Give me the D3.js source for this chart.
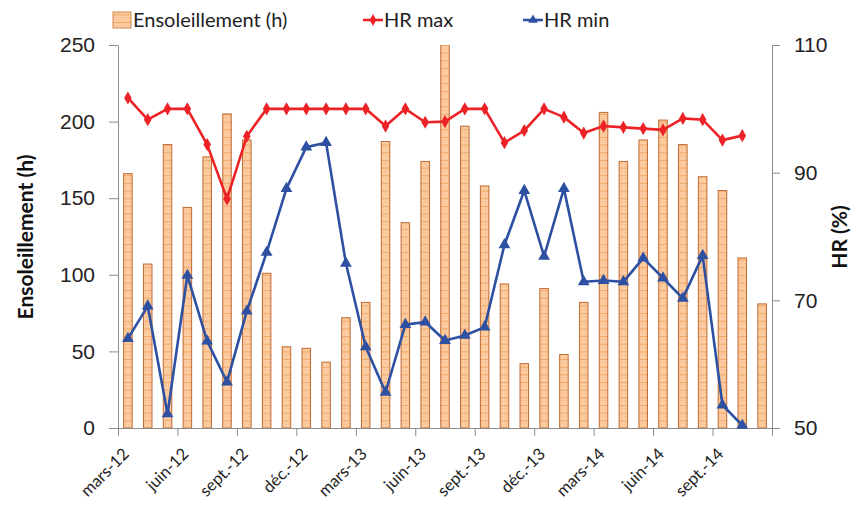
<!DOCTYPE html>
<html><head><meta charset="utf-8">
<script src="https://cdn.jsdelivr.net/npm/d3@7"></script>
<style>
body{margin:0;background:#fff;}
svg{display:block;font-family:Lato,"Open Sans",sans-serif;}
</style></head>
<body><svg id="c" width="853" height="505"></svg>
<script>
const months = ["mars-12","avr.-12","mai-12","juin-12","juil.-12","août-12","sept.-12","oct.-12","nov.-12","déc.-12",
"janv.-13","févr.-13","mars-13","avr.-13","mai-13","juin-13","juil.-13","août-13","sept.-13","oct.-13","nov.-13","déc.-13",
"janv.-14","févr.-14","mars-14","avr.-14","mai-14","juin-14","juil.-14","août-14","sept.-14","oct.-14","nov.-14"];
const sunshine = [166,107,185,144,177,205,188,101,53,52,43,72,82,187,134,174,262,197,158,94,42,91,48,82,206,174,188,201,185,164,155,111,81];
const hrMax = [101.7,98.3,100,100,94.4,85.9,95.7,100,100,100,100,100,100,97.3,100,97.9,98.0,100,100,94.7,96.6,100,98.7,96.2,97.3,97.1,96.9,96.7,98.5,98.3,95.1,95.8,null];
const hrMin = [64.0,69.1,52.2,73.9,63.6,57.2,68.3,77.5,87.5,94.0,94.7,75.8,62.7,55.6,66.2,66.6,63.7,64.5,65.8,78.7,87.2,76.9,87.5,72.9,73.1,72.9,76.6,73.5,70.3,77.0,53.6,50.4,null];
const tickLabels = ["mars-12","juin-12","sept.-12","déc.-12","mars-13","juin-13","sept.-13","déc.-13","mars-14","juin-14","sept.-14",""];
const leftTicks = [0,50,100,150,200,250];
const rightTicks = [50,70,90,110];

const svg = d3.select("#c");
const L=118,R=772,T=45,B=428;
const x = d3.scaleBand().domain(d3.range(months.length)).range([L,R]).paddingInner(0.57).paddingOuter(0.285);
const xt = d3.scaleLinear().domain([0,months.length]).range([L,R]);
const yL = d3.scaleLinear().domain([0,250]).range([B,T]);
const yR = d3.scaleLinear().domain([50,110]).range([B,T]);
const cx = i => x(i)+x.bandwidth()/2;

const defs = svg.append("defs");
const pat = defs.append("pattern").attr("id","pat").attr("patternUnits","userSpaceOnUse").attr("width",4).attr("height",7.66).attr("y",B);
pat.append("rect").attr("width",4).attr("height",7.66).attr("fill","#fccb9f");
pat.append("rect").attr("x",1).attr("y",3).attr("width",1).attr("height",1).attr("fill","#f3ad72");
pat.append("line").attr("x1",0).attr("x2",4).attr("y1",0.5).attr("y2",0.5).attr("stroke","#f0a868").attr("stroke-width",1);
defs.append("clipPath").attr("id","clip").append("rect").attr("x",L).attr("y",T).attr("width",R-L).attr("height",B-T);

// bars
svg.append("g").attr("clip-path","url(#clip)").selectAll("rect").data(sunshine).join("rect")
  .attr("x",(d,i)=>x(i)).attr("width",x.bandwidth())
  .attr("y",d=>yL(d)).attr("height",d=>B-yL(d))
  .attr("fill","url(#pat)").attr("stroke","#c06a32").attr("stroke-width",1);

// axes
const gray="#8c8c8c";
const tickVals = d3.range(0,34,3);
const ax = svg.append("g").attr("transform",`translate(0,${B})`)
  .call(d3.axisBottom(xt).tickValues(tickVals).tickFormat("").tickSize(8).tickSizeOuter(0));
ax.select(".domain").attr("stroke",gray);
ax.selectAll(".tick line").attr("stroke",gray);
svg.append("g").selectAll("text").data(tickVals).join("text")
  .attr("transform",(d)=>`translate(${xt(d)+8},${B+23}) rotate(-45)`)
  .attr("text-anchor","end").attr("dy","0.35em")
  .attr("font-size",16.5).attr("fill","#222")
  .text((d,i)=>tickLabels[i]);

const al = svg.append("g").attr("transform",`translate(${L},0)`)
  .call(d3.axisLeft(yL).tickValues(leftTicks).tickSize(9).tickSizeOuter(0).tickPadding(14));
al.select(".domain").attr("stroke",gray);
al.selectAll(".tick line").attr("stroke",gray);
al.selectAll("text").attr("font-size",21).attr("fill","#222");

const ar = svg.append("g").attr("transform",`translate(${R},0)`)
  .call(d3.axisRight(yR).tickValues(rightTicks).tickSize(8).tickSizeOuter(0).tickPadding(14));
ar.select(".domain").attr("stroke",gray);
ar.selectAll(".tick line").attr("stroke",gray);
ar.selectAll("text").attr("font-size",21).attr("fill","#222");

// lines
const idx = d3.range(months.length);
function series(data,color,shape,size){
  const pts = idx.filter(i=>data[i]!=null);
  svg.append("path").datum(pts).attr("fill","none").attr("stroke",color).attr("stroke-width",2.6)
    .attr("stroke-linejoin","round")
    .attr("d",d3.line().x(i=>cx(i)).y(i=>yR(data[i])));
  svg.append("g").selectAll("path").data(pts).join("path")
    .attr("transform",i=>`translate(${cx(i)},${yR(data[i])})`)
    .attr("d",d3.symbol().type(shape).size(size)).attr("fill",color);
}
series(hrMax,"#ec2227",d3.symbolDiamond,50);
series(hrMin,"#2d50a3",d3.symbolTriangle,60);

// axis titles
svg.append("text").attr("transform","translate(33,237) rotate(-90)").attr("text-anchor","middle")
  .attr("font-size",21).attr("font-weight","bold").attr("fill","#111").text("Ensoleillement (h)");
svg.append("text").attr("transform","translate(847,237) rotate(-90)").attr("text-anchor","middle")
  .attr("font-size",21).attr("font-weight","bold").attr("fill","#111").text("HR (%)");

// legend
const lg = svg.append("g");
lg.append("rect").attr("x",113).attr("y",12).attr("width",18).attr("height",16).attr("fill","url(#pat)").attr("stroke","#d08a50");
lg.append("text").attr("x",133).attr("y",20).attr("dy","0.35em").attr("font-size",20).attr("fill","#222").text("Ensoleillement (h)");
lg.append("line").attr("x1",363).attr("x2",383).attr("y1",20).attr("y2",20).attr("stroke","#ec2227").attr("stroke-width",2.6);
lg.append("path").attr("transform","translate(373,20)").attr("d",d3.symbol().type(d3.symbolDiamond).size(40)).attr("fill","#ec2227");
lg.append("text").attr("x",384).attr("y",20).attr("dy","0.35em").attr("font-size",20).attr("fill","#222").text("HR max");
lg.append("line").attr("x1",523).attr("x2",543).attr("y1",20).attr("y2",20).attr("stroke","#2d50a3").attr("stroke-width",2.6);
lg.append("path").attr("transform","translate(533,20)").attr("d",d3.symbol().type(d3.symbolTriangle).size(40)).attr("fill","#2d50a3");
lg.append("text").attr("x",544).attr("y",20).attr("dy","0.35em").attr("font-size",20).attr("fill","#222").text("HR min");
</script></body></html>
